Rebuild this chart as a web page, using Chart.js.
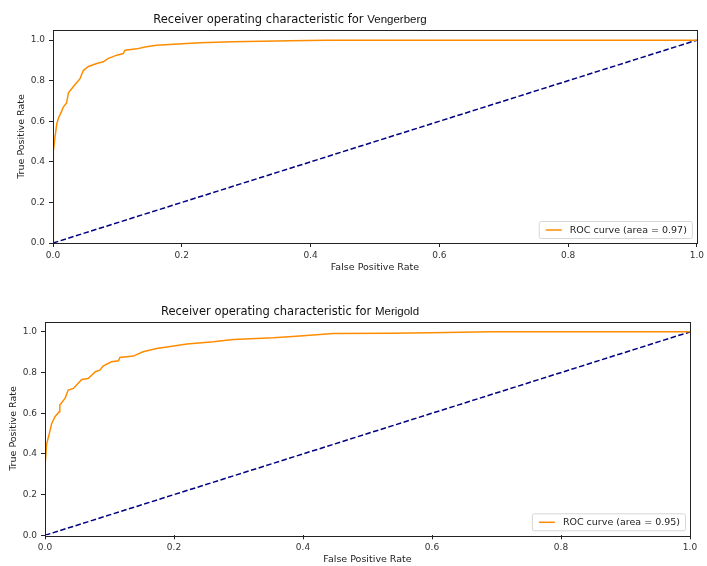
<!DOCTYPE html>
<html>
<head>
<meta charset="utf-8">
<script src="https://cdn.jsdelivr.net/npm/chart.js@4.4.1/dist/chart.umd.min.js"></script>
<style>
  html, body { margin: 0; padding: 0; background: #fff; }
  #page { position: relative; width: 707px; height: 566px; }
  .panel { position: absolute; left: 0; width: 707px; height: 283px; }
  .title { position: absolute; left: 0; width: 580px; text-align: center;
           font: 11.5px "DejaVu Sans", sans-serif; color: #111; white-space: nowrap; }
  .title span { font-family: "Liberation Sans", sans-serif; }
</style>
</head>
<body>
<div id="page">
  <div class="panel" style="top:0"><canvas id="roc1"></canvas></div>
  <div class="panel" style="top:283px"><canvas id="roc2"></canvas></div>
  <div class="title" style="top:12px">Receiver operating characteristic for <span>Vengerberg</span></div>
  <div class="title" style="top:304px">Receiver operating characteristic for <span>Merigold</span></div>
</div>
<script>
// tick positions shared by both plots
const xTicks = [0, 0.2, 0.4, 0.6, 0.8, 1.0];
const yTicks = [0, 0.2, 0.4, 0.6, 0.8, 1.0];

// chance line
const chanceX = [0, 1];
const chanceY = [0, 1];

// Vengerberg ROC
const vengFpr = [0, 0, 0.001, 0.003, 0.006, 0.009, 0.0135, 0.016, 0.021, 0.024,
  0.029, 0.034, 0.042, 0.047, 0.055, 0.068, 0.078, 0.086, 0.099, 0.109,
  0.112, 0.130, 0.145, 0.161, 0.187, 0.228, 0.279, 0.367, 0.424, 1.0];
const vengTpr = [0, 0.22, 0.45, 0.52, 0.59, 0.62, 0.65, 0.67, 0.69, 0.74,
  0.76, 0.78, 0.81, 0.85, 0.87, 0.885, 0.893, 0.91, 0.926, 0.934,
  0.95, 0.957, 0.967, 0.975, 0.98, 0.987, 0.992, 0.997, 1.0, 1.0];
const vengLabel = "ROC curve (area = 0.97)";

// Merigold ROC
const meriFpr = [0, 0, 0.0026, 0.0067, 0.0104, 0.0155, 0.022, 0.023, 0.031, 0.036,
  0.044, 0.057, 0.067, 0.078, 0.085, 0.090, 0.103, 0.114, 0.116, 0.137,
  0.152, 0.173, 0.189, 0.220, 0.261, 0.292, 0.354, 0.395, 0.447, 0.537,
  0.597, 0.693, 1.0];
const meriTpr = [0, 0.337, 0.45, 0.50, 0.55, 0.583, 0.607, 0.64, 0.673, 0.714,
  0.722, 0.766, 0.771, 0.804, 0.812, 0.832, 0.853, 0.858, 0.874, 0.881,
  0.902, 0.918, 0.926, 0.940, 0.951, 0.963, 0.971, 0.980, 0.992, 0.993,
  0.996, 1.0, 1.0];
const meriLabel = "ROC curve (area = 0.95)";

function toPoints(xs, ys) {
  return xs.map((x, i) => ({ x: x, y: ys[i] }));
}

// box around the plot, like matplotlib spines
const frame = {
  id: "frame",
  afterDatasetsDraw(chart) {
    const a = chart.chartArea, ctx = chart.ctx;
    ctx.save();
    ctx.strokeStyle = "#222";
    ctx.lineWidth = 1;
    ctx.strokeRect(Math.round(a.left) + 0.5, Math.round(a.top) + 0.5,
      Math.round(a.right - a.left), Math.round(a.bottom - a.top));
    ctx.restore();
  }
};

// legend in the lower right corner of the plot
const innerLegend = {
  id: "innerLegend",
  afterDraw(chart) {
    const ds = chart.data.datasets[0];
    const a = chart.chartArea, ctx = chart.ctx;
    ctx.save();
    ctx.font = '9.5px "DejaVu Sans"';
    const tw = ctx.measureText(ds.label).width;
    const w = tw + 36, h = 17;
    const x = a.right - 5 - w, y = a.bottom - 5 - h;
    ctx.beginPath();
    ctx.roundRect(x + 0.5, y + 0.5, w, h, 2);
    ctx.fillStyle = "rgba(255,255,255,0.8)";
    ctx.fill();
    ctx.strokeStyle = "#d6d6d6";
    ctx.lineWidth = 1;
    ctx.stroke();
    ctx.beginPath();
    ctx.moveTo(x + 7, y + h / 2 + 0.5);
    ctx.lineTo(x + 23, y + h / 2 + 0.5);
    ctx.strokeStyle = ds.borderColor;
    ctx.lineWidth = 1.5;
    ctx.stroke();
    ctx.fillStyle = "#222";
    ctx.textBaseline = "middle";
    ctx.fillText(ds.label, x + 31, y + h / 2 + 1);
    ctx.restore();
  }
};

function makeRoc(id, fpr, tpr, label, box) {
  return new Chart(document.getElementById(id), {
    type: "line",
    data: {
      datasets: [
        {
          label: label,
          data: toPoints(fpr, tpr),
          borderColor: "#ff8c00",
          borderWidth: 1.5,
          pointRadius: 0,
          tension: 0
        },
        {
          label: "chance",
          data: toPoints(chanceX, chanceY),
          borderColor: "#000080",
          borderWidth: 1.5,
          borderDash: [5.5, 2.5],
          pointRadius: 0
        }
      ]
    },
    options: {
      responsive: true,
      maintainAspectRatio: false,
      animation: false,
      layout: { padding: { top: box.top, right: box.right, left: 0, bottom: 0 } },
      plugins: { legend: { display: false }, tooltip: { enabled: false } },
      scales: {
        x: {
          type: "linear",
          min: 0,
          max: 1,
          afterBuildTicks: s => { s.ticks = xTicks.map(v => ({ value: v })); },
          afterFit: s => { s.height = box.xh; },
          grid: { drawOnChartArea: false, drawTicks: true, tickLength: 4, color: "#222" },
          border: { display: false },
          ticks: { padding: 3, color: "#333", font: { family: "DejaVu Sans", size: 9 },
                   callback: v => v.toFixed(1), maxRotation: 0 },
          title: { display: true, text: "False Positive Rate", color: "#222",
                   font: { family: "DejaVu Sans", size: 9.5 },
                   padding: { top: 0, bottom: box.xtb } }
        },
        y: {
          min: 0,
          max: 1.05,
          afterBuildTicks: s => { s.ticks = yTicks.map(v => ({ value: v })); },
          afterFit: s => { s.width = box.yw; },
          grid: { drawOnChartArea: false, drawTicks: true, tickLength: 4, color: "#222" },
          border: { display: false },
          ticks: { padding: 4, color: "#333", font: { family: "DejaVu Sans", size: 9 },
                   callback: v => v.toFixed(1) },
          title: { display: true, text: "True Positive Rate", color: "#222",
                   font: { family: "DejaVu Sans", size: 9.5 },
                   padding: { top: box.ytp, bottom: 0 } }
        }
      }
    },
    plugins: [frame, innerLegend]
  });
}

makeRoc("roc1", vengFpr, vengTpr, vengLabel, { top: 30, right: 9, xh: 40, yw: 53, xtb: 9.5, ytp: 16 });
makeRoc("roc2", meriFpr, meriTpr, meriLabel, { top: 38.7, right: 17, xh: 30.7, yw: 45, xtb: 0.5, ytp: 8 });
</script>
</body>
</html>
